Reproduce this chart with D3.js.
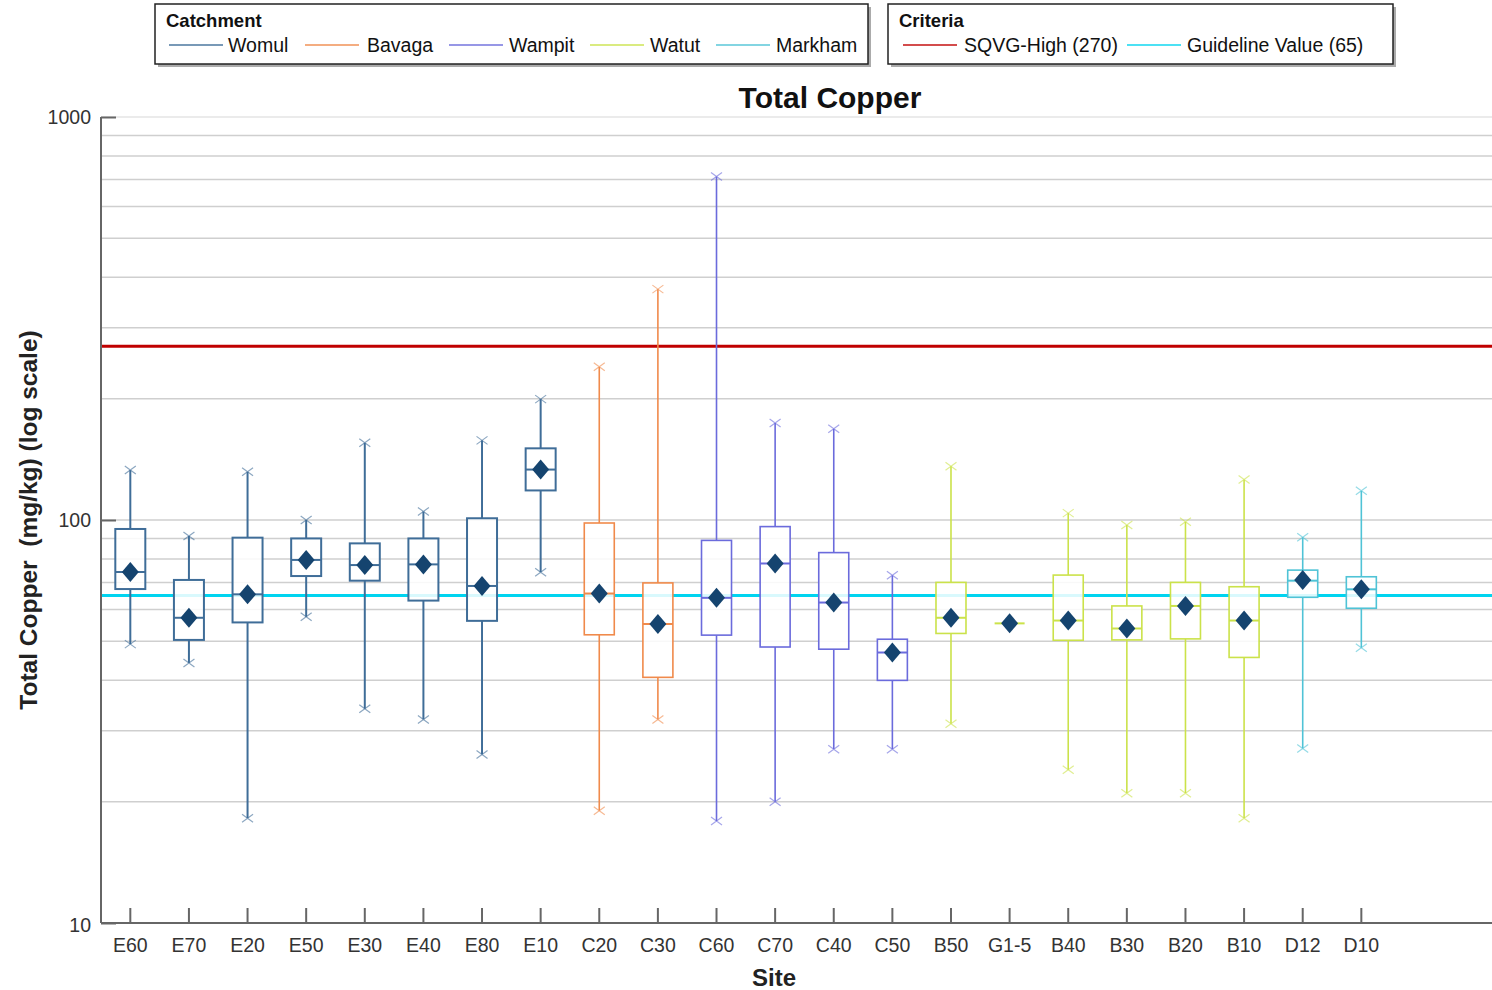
<!DOCTYPE html>
<html><head><meta charset="utf-8">
<script src="https://cdn.jsdelivr.net/npm/d3@7"></script>
<style>
body{margin:0;background:#fff;font-family:"Liberation Sans",Arial,sans-serif;}
svg{display:block;}
</style></head>
<body>
<svg id="chart" width="1492" height="990"></svg>
<script>
const sites      = ["E60","E70","E20","E50","E30","E40","E80","E10","C20","C30","C60","C70","C40","C50","B50","G1-5","B40","B30","B20","B10","D12","D10"];
const catchments = ["Womul","Womul","Womul","Womul","Womul","Womul","Womul","Womul","Bavaga","Bavaga","Wampit","Wampit","Wampit","Wampit","Watut","Watut","Watut","Watut","Watut","Watut","Markham","Markham"];
const whiskerLow = [49.2, 44.2, 18.2, 57.5, 34.0, 32.0, 26.2, 74.2, 19.0, 32.0, 17.9, 20.0, 27.0, 27.0, 31.2, 55.4, 24.0, 21.0, 21.0, 18.2, 27.1, 48.2];
const q1         = [67.4, 50.4, 55.7, 72.6, 70.7, 63.1, 56.2, 118.4, 51.9, 40.7, 51.8, 48.4, 47.8, 40.0, 52.3, 55.4, 50.3, 50.4, 50.7, 45.6, 64.3, 60.4];
const medians    = [74.3, 57.2, 65.4, 79.6, 77.3, 77.6, 68.6, 133.4, 65.7, 55.2, 64.1, 78.0, 62.4, 46.9, 57.2, 55.4, 56.3, 53.8, 61.2, 56.3, 70.7, 67.3];
const q3         = [95.0, 71.0, 90.4, 90.0, 87.5, 90.0, 101.0, 150.6, 98.3, 69.8, 89.0, 96.3, 83.0, 50.6, 70.0, 55.4, 73.0, 61.2, 70.0, 68.3, 75.1, 72.3];
const whiskerHigh= [133, 91.3, 131.8, 100, 155.5, 105, 157.6, 199.5, 240, 374, 712, 174, 168.5, 72.9, 136, 55.4, 104, 97.2, 99, 126, 90.6, 118.2];
const means      = [74.3, 57.2, 65.4, 79.6, 77.3, 77.6, 68.6, 133.4, 65.7, 55.2, 64.1, 78.0, 62.4, 46.9, 57.2, 55.4, 56.3, 53.8, 61.2, 56.3, 71.0, 67.3];

const catchmentNames  = ["Womul","Bavaga","Wampit","Watut","Markham"];
const catchmentColors = ["#3f6d98","#f08a4b","#6b6bdc","#cbe24a","#4fc3d6"];
const criteriaNames   = ["SQVG-High (270)","Guideline Value (65)"];
const criteriaValues  = [270, 65];
const criteriaColors  = ["#c00000","#00d4f0"];
const yTickLabels     = [10, 100, 1000];

(function(){
const svg = d3.select("#chart");
const plotLeft = 101, plotBottom = 923, plotTop = 117, rightEdge = 1492;
const step = 58.62;

const y = d3.scaleLog().domain([10,1000]).range([plotBottom, plotTop]);
const x = d3.scaleBand().domain(sites).range([plotLeft, plotLeft + step*sites.length]).padding(0);
const cx = s => x(s) + x.bandwidth()/2;
const color = d3.scaleOrdinal().domain(catchmentNames).range(catchmentColors);

// gridlines
const gridVals = y.ticks().filter(v => v > 10);
svg.append("g").selectAll("line").data(gridVals).join("line")
  .attr("x1", plotLeft).attr("x2", rightEdge)
  .attr("y1", d => y(d)).attr("y2", d => y(d))
  .attr("stroke", d => d === 1000 ? "#e4e4e4" : "#cfcfcf").attr("stroke-width", 1.5);

// criteria lines
criteriaValues.forEach((v,i) => {
  svg.append("line").attr("x1", plotLeft).attr("x2", rightEdge)
    .attr("y1", y(v)).attr("y2", y(v))
    .attr("stroke", criteriaColors[i]).attr("stroke-width", 3);
});

// boxes
const boxW = 30;
const g = svg.append("g");
function crossMark(xc, yc, c) {
  const h = 5.5, v = 4;
  g.append("path").attr("d", `M${xc-h},${yc-v}L${xc+h},${yc+v}M${xc-h},${yc+v}L${xc+h},${yc-v}`)
    .attr("stroke", c).attr("stroke-opacity", 0.6).attr("stroke-width", 1.2).attr("fill", "none");
}
sites.forEach((s,i) => {
  const c = color(catchments[i]);
  const xc = cx(s);
  const sw = catchments[i] === "Womul" ? 2 : 1.6;
  if (whiskerHigh[i] > q3[i]) {
    g.append("line").attr("x1", xc).attr("x2", xc).attr("y1", y(q3[i])).attr("y2", y(whiskerHigh[i])).attr("stroke", c).attr("stroke-width", sw);
    crossMark(xc, y(whiskerHigh[i]), c);
  }
  if (whiskerLow[i] < q1[i]) {
    g.append("line").attr("x1", xc).attr("x2", xc).attr("y1", y(q1[i])).attr("y2", y(whiskerLow[i])).attr("stroke", c).attr("stroke-width", sw);
    crossMark(xc, y(whiskerLow[i]), c);
  }
  if (q3[i] > q1[i]) {
    g.append("rect").attr("x", xc - boxW/2).attr("width", boxW)
      .attr("y", y(q3[i])).attr("height", y(q1[i]) - y(q3[i]))
      .attr("fill", "#fff").attr("fill-opacity", 0.85).attr("stroke", c).attr("stroke-width", sw);
  }
  g.append("line").attr("x1", xc - boxW/2).attr("x2", xc + boxW/2)
    .attr("y1", y(medians[i])).attr("y2", y(medians[i])).attr("stroke", c).attr("stroke-width", 2);
  const my = y(means[i]);
  g.append("path").attr("d", `M${xc},${my-10}L${xc+8.5},${my}L${xc},${my+10}L${xc-8.5},${my}Z`)
    .attr("fill", "#15446f");
});

// axes
const axisColor = "#666";
svg.append("line").attr("x1", plotLeft).attr("x2", plotLeft).attr("y1", plotTop).attr("y2", plotBottom).attr("stroke", axisColor).attr("stroke-width", 2);
svg.append("line").attr("x1", plotLeft).attr("x2", rightEdge).attr("y1", plotBottom).attr("y2", plotBottom).attr("stroke", axisColor).attr("stroke-width", 2);

const yAxis = d3.axisRight(y).tickValues(yTickLabels).tickSize(15).tickFormat("");
const ya = svg.append("g").attr("transform", `translate(${plotLeft},0)`).call(yAxis);
ya.select(".domain").remove();
ya.selectAll("line").attr("stroke", axisColor).attr("stroke-width", 2);
svg.append("g").selectAll("text").data(yTickLabels).join("text")
  .attr("x", 91).attr("y", d => y(d) + 7 + (d === 10 ? 2 : 0)).attr("text-anchor", "end")
  .attr("font-size", 19.5).attr("fill", "#333").text(d => d);

const xAxis = d3.axisTop(x).tickSize(15).tickFormat("");
const xa = svg.append("g").attr("transform", `translate(0,${plotBottom})`).call(xAxis);
xa.select(".domain").remove();
xa.selectAll("line").attr("stroke", axisColor).attr("stroke-width", 2);
svg.append("g").selectAll("text").data(sites).join("text")
  .attr("x", d => cx(d)).attr("y", 952).attr("text-anchor", "middle")
  .attr("font-size", 19.5).attr("fill", "#333").text(d => d);

// titles
svg.append("text").attr("x", 830).attr("y", 108).attr("text-anchor", "middle")
  .attr("font-size", 30).attr("font-weight", "bold").attr("fill", "#111").text("Total Copper");
svg.append("text").attr("x", 774).attr("y", 986).attr("text-anchor", "middle")
  .attr("font-size", 24).attr("font-weight", "bold").attr("fill", "#222").text("Site");
svg.append("text").attr("transform", "translate(37,520) rotate(-90)").attr("text-anchor", "middle")
  .attr("font-size", 24.5).attr("font-weight", "bold").attr("fill", "#222").style("white-space","pre")
  .text("Total Copper  (mg/kg) (log scale)");

// legends
function legendBox(x0, y0, w, h, title, names, colors, lineX, textX) {
  const lg = svg.append("g");
  lg.append("rect").attr("x", x0+3).attr("y", y0+3).attr("width", w).attr("height", h).attr("fill", "#888").attr("opacity", 0.7);
  lg.append("rect").attr("x", x0).attr("y", y0).attr("width", w).attr("height", h).attr("fill", "#fff").attr("stroke", "#222").attr("stroke-width", 1.5);
  lg.append("text").attr("x", x0 + 11).attr("y", y0 + 23).attr("font-size", 18.5).attr("font-weight", "bold").attr("fill", "#111").text(title);
  names.forEach((n,i) => {
    lg.append("line").attr("x1", lineX[i]).attr("x2", lineX[i] + 54).attr("y1", y0 + 41).attr("y2", y0 + 41)
      .attr("stroke", colors[i]).attr("stroke-opacity", 0.7).attr("stroke-width", 2);
    lg.append("text").attr("x", textX[i]).attr("y", y0 + 48).attr("font-size", 19.5).attr("fill", "#111").text(n);
  });
}
legendBox(155, 4, 713, 60, "Catchment", catchmentNames, catchmentColors, [169,305,449,590,716], [228,367,509,650,776]);
legendBox(888, 4, 505, 60, "Criteria", criteriaNames, criteriaColors, [903,1127], [964,1187]);
})();
</script>
</body></html>
